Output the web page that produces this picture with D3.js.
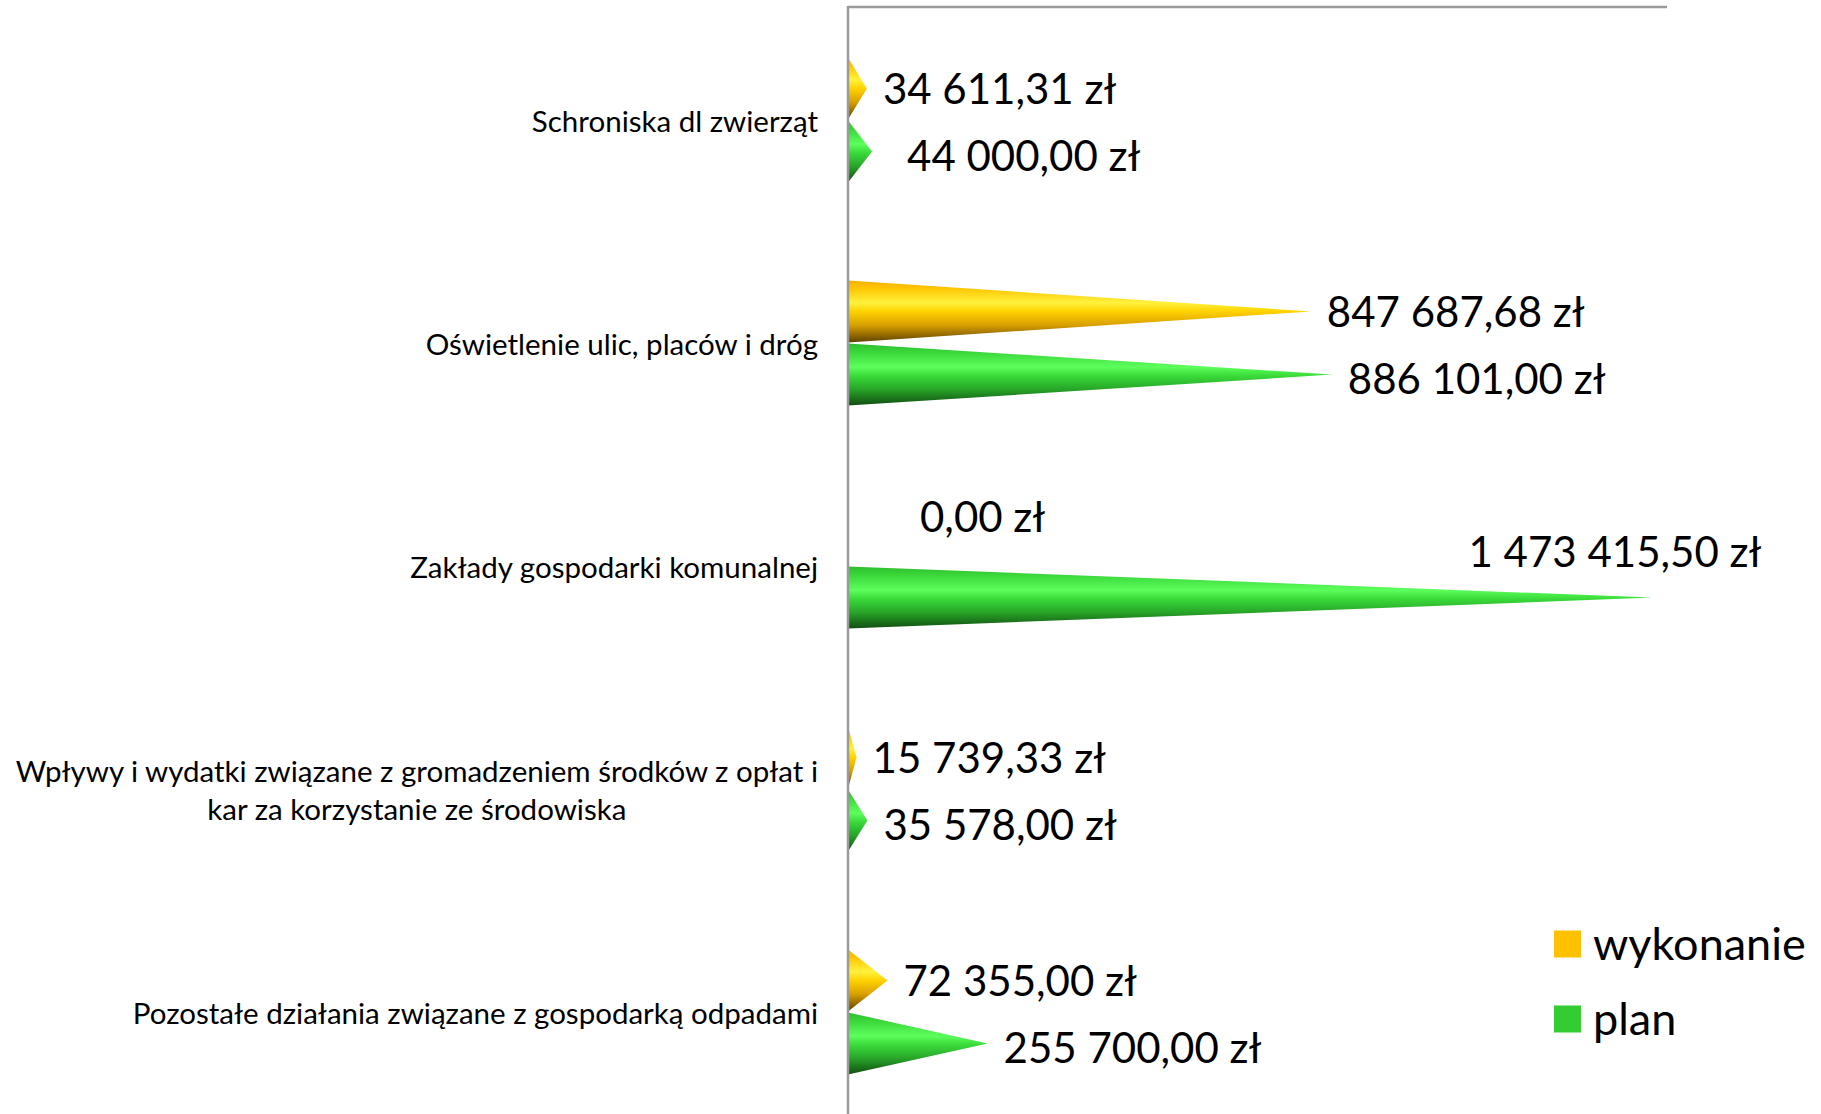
<!DOCTYPE html>
<html>
<head>
<meta charset="utf-8">
<script src="https://cdn.jsdelivr.net/npm/d3@7"></script>
<style>
  html, body { margin: 0; padding: 0; background: #ffffff; }
  svg { display: block; }
</style>
</head>
<body>
<svg id="chart" width="1821" height="1114"></svg>
<script>
// ---- data ----
const categories = [
  "Schroniska dl zwierząt",
  "Oświetlenie ulic, placów i dróg",
  "Zakłady gospodarki komunalnej",
  "Wpływy i wydatki związane z gromadzeniem środków z opłat i kar za korzystanie ze środowiska",
  "Pozostałe działania związane z gospodarką odpadami"
];
const seriesNames = ["wykonanie", "plan"];
const wykonanie = [34611.31, 847687.68, 0.00, 15739.33, 72355.00];
const plan = [44000.00, 886101.00, 1473415.50, 35578.00, 255700.00];
const xMax = 1500000;

// ---- layout / style (not data) ----
const W = 1821, H = 1114;
const plot = { left: 848, right: 1667, top: 8.5, bottom: 1123.5 };
const colors = { wykonanie: "#FFC000", plan: "#33CC33" };
const seriesLabelDy = { wykonanie: 1, plan: 5 };
// manual label nudges (as placed in the original chart)
const labelNudge = { "0-plan": [19, 0], "2-wykonanie": [56, -18], "2-plan": [-200, -50] };

const svg = d3.select("#chart");
const defs = svg.append("defs");

function addGrad(id, stops) {
  const g = defs.append("linearGradient").attr("id", id)
    .attr("x1", 0).attr("y1", 0).attr("x2", 0).attr("y2", 1);
  stops.forEach(s => g.append("stop").attr("offset", s[0]).attr("stop-color", s[1]));
}
addGrad("g-wykonanie", [[0, "#F2B000"], [0.12, "#FFC400"], [0.36, "#FFF23C"], [0.5, "#FFD200"], [0.72, "#D9A000"], [0.9, "#8A6200"], [1, "#5C4200"]]);
addGrad("g-plan", [[0, "#2DBE2D"], [0.12, "#38D438"], [0.38, "#5CFF5C"], [0.52, "#3ADB3A"], [0.74, "#28A428"], [0.9, "#1A6E1A"], [1, "#124E12"]]);

const x = d3.scaleLinear().domain([0, xMax]).range([plot.left, plot.right]);
const y = d3.scaleBand().domain(categories).range([plot.top, plot.bottom])
  .paddingInner(0.43).paddingOuter(0.215);
const ySub = d3.scaleBand().domain(seriesNames).range([0, y.bandwidth()]).padding(0.015);

const pl = d3.formatLocale({ decimal: ",", thousands: " ", grouping: [3], currency: ["", " zł"] });
const fmt = pl.format("$,.2f");

const rows = [];
categories.forEach((c, i) => {
  rows.push({ c, i, s: "wykonanie", v: wykonanie[i] });
  rows.push({ c, i, s: "plan", v: plan[i] });
});

// cones
svg.append("g").selectAll("path").data(rows.filter(d => d.v > 0)).join("path")
  .attr("d", d => {
    const y0 = y(d.c) + ySub(d.s), h = ySub.bandwidth();
    const p = d3.path();
    p.moveTo(x(0), y0);
    p.lineTo(x(d.v), y0 + h / 2);
    p.lineTo(x(0), y0 + h);
    p.closePath();
    return p.toString();
  })
  .attr("fill", d => `url(#g-${d.s})`);

// axis frame lines
svg.append("line").attr("x1", plot.left).attr("x2", plot.right)
  .attr("y1", 7).attr("y2", 7).attr("stroke", "#9a9a9a").attr("stroke-width", 2.5);
svg.append("line").attr("x1", plot.left).attr("x2", plot.left)
  .attr("y1", 6).attr("y2", H).attr("stroke", "#9a9a9a").attr("stroke-width", 2.5);

// value labels
svg.append("g").selectAll("text").data(rows).join("text")
  .attr("x", d => x(d.v) + 16 + (labelNudge[d.i + "-" + d.s] || [0, 0])[0])
  .attr("y", d => y(d.c) + ySub(d.s) + ySub.bandwidth() / 2 + seriesLabelDy[d.s] + (labelNudge[d.i + "-" + d.s] || [0, 0])[1])
  .attr("dy", "0.35em")
  .attr("font-family", "Lato, 'Open Sans', sans-serif")
  .attr("font-size", 42)
  .attr("fill", "#000")
  .text(d => fmt(d.v));

// category labels (wrapped, centred lines, block right-aligned)
const catG = svg.append("g");
const maxLabelW = 810, labelRight = 818, lineH = 38, catFont = 29.5;
categories.forEach(c => {
  const g = catG.append("g");
  const words = c.split(" ");
  const lines = [];
  let cur = [];
  const probe = g.append("text").attr("font-family", "Lato, sans-serif").attr("font-size", catFont);
  words.forEach(w => {
    const test = cur.concat([w]).join(" ");
    probe.text(test);
    if (probe.node().getComputedTextLength() > maxLabelW && cur.length) {
      lines.push(cur.join(" "));
      cur = [w];
    } else cur.push(w);
  });
  lines.push(cur.join(" "));
  probe.remove();
  const widths = lines.map(l => {
    const t = g.append("text").attr("font-family", "Lato, sans-serif").attr("font-size", catFont).text(l);
    const w = t.node().getComputedTextLength(); t.remove(); return w;
  });
  const blockW = d3.max(widths);
  const cx = labelRight - blockW / 2;
  const cy = y(c) + y.bandwidth() / 2 + 2;
  lines.forEach((l, k) => {
    g.append("text")
      .attr("x", cx)
      .attr("y", cy + (k - (lines.length - 1) / 2) * lineH)
      .attr("dy", "0.35em")
      .attr("text-anchor", "middle")
      .attr("font-family", "Lato, sans-serif")
      .attr("font-size", catFont)
      .attr("fill", "#000")
      .text(l);
  });
});

// legend
const leg = svg.append("g");
seriesNames.forEach((s, k) => {
  const yy = 944 + k * 75;
  leg.append("rect").attr("x", 1554).attr("y", yy - 13.5).attr("width", 27).attr("height", 27).attr("fill", colors[s]);
  leg.append("text").attr("x", 1593).attr("y", yy).attr("dy", "0.35em")
    .attr("font-family", "Lato, sans-serif").attr("font-size", 45).attr("fill", "#000").text(s);
});
</script>
</body>
</html>
